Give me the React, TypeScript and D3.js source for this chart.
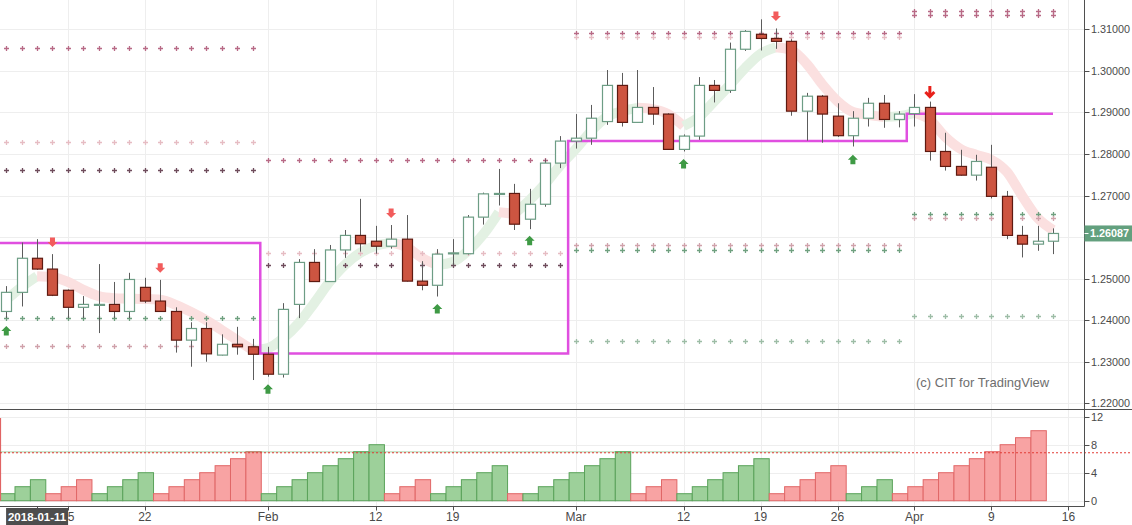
import React, { useEffect, useRef } from 'react';
import * as d3 from 'd3';

// daily candles, 2018-01-09 .. 2018-04-13
const opens = [
  1.2421, 1.2467, 1.2549, 1.2523, 1.2472, 1.2431, 1.2438, 1.2438, 1.2421, 1.2479,
  1.2446, 1.2421, 1.2352, 1.2380, 1.2316, 1.2342, 1.2336, 1.2318, 1.2270, 1.2438,
  1.2539, 1.2493, 1.2569, 1.2604, 1.2590, 1.2578, 1.2595, 1.2494, 1.2484, 1.2562,
  1.2560, 1.2648, 1.2703, 1.2705, 1.2643, 1.2679, 1.2778, 1.2831, 1.2838, 1.2878,
  1.2965, 1.2876, 1.2912, 1.2896, 1.2811, 1.2843, 1.2965, 1.2953, 1.3052, 1.3088,
  1.3078, 1.3071, 1.2903, 1.2939, 1.2891, 1.2844, 1.2886, 1.2922, 1.2883, 1.2897,
  1.2912, 1.2806, 1.2770, 1.2749, 1.2768, 1.2698, 1.2604, 1.2583, 1.2590,
];
const highs = [
  1.2482, 1.2587, 1.2595, 1.2559, 1.2474, 1.2458, 1.2535, 1.2492, 1.2514, 1.2502,
  1.2497, 1.2431, 1.2395, 1.2395, 1.2366, 1.2384, 1.2355, 1.2336, 1.2441, 1.2547,
  1.2571, 1.2581, 1.2617, 1.2692, 1.2627, 1.2629, 1.2653, 1.2542, 1.2571, 1.2595,
  1.2653, 1.2707, 1.2764, 1.2728, 1.2716, 1.2787, 1.2843, 1.2896, 1.2918, 1.3002,
  1.2995, 1.3002, 1.2961, 1.2898, 1.2847, 1.2985, 1.2978, 1.3068, 1.3098, 1.3124,
  1.3102, 1.3076, 1.2947, 1.2942, 1.2922, 1.2903, 1.2935, 1.2942, 1.2903, 1.2944,
  1.2926, 1.2851, 1.2810, 1.2798, 1.2822, 1.2711, 1.2627, 1.2627, 1.2621,
];
const lows = [
  1.2405, 1.2433, 1.2521, 1.2458, 1.2405, 1.2405, 1.2369, 1.2405, 1.2405, 1.2441,
  1.2420, 1.2322, 1.2288, 1.2300, 1.2315, 1.2317, 1.2256, 1.2264, 1.2262, 1.2405,
  1.2492, 1.2492, 1.2550, 1.2565, 1.2560, 1.2572, 1.2493, 1.2472, 1.2457, 1.2531,
  1.2558, 1.2630, 1.2676, 1.2617, 1.2619, 1.2673, 1.2766, 1.2813, 1.2822, 1.2870,
  1.2866, 1.2875, 1.2870, 1.2810, 1.2806, 1.2834, 1.2924, 1.2947, 1.3048, 1.3049,
  1.3053, 1.2892, 1.2832, 1.2827, 1.2841, 1.2818, 1.2866, 1.2863, 1.2864, 1.2866,
  1.2784, 1.2760, 1.2748, 1.2736, 1.2693, 1.2595, 1.2551, 1.2567, 1.2559,
];
const closes = [
  1.2467, 1.2549, 1.2523, 1.2460, 1.2431, 1.2438, 1.2438, 1.2421, 1.2498, 1.2446,
  1.2421, 1.2352, 1.2380, 1.2319, 1.2342, 1.2336, 1.2318, 1.2270, 1.2426, 1.2539,
  1.2493, 1.2569, 1.2604, 1.2584, 1.2578, 1.2595, 1.2494, 1.2484, 1.2559, 1.2562,
  1.2648, 1.2704, 1.2705, 1.2631, 1.2679, 1.2778, 1.2831, 1.2838, 1.2886, 1.2965,
  1.2876, 1.2912, 1.2896, 1.2811, 1.2843, 1.2965, 1.2953, 1.3052, 1.3095, 1.3078,
  1.3071, 1.2903, 1.2939, 1.2896, 1.2844, 1.2886, 1.2922, 1.2883, 1.2896, 1.2912,
  1.2806, 1.2770, 1.2749, 1.2782, 1.2698, 1.2604, 1.2583, 1.2590, 1.26087,
];

// smoothed average ribbon
const ribbon = [
  1.2449, 1.2480, 1.2506, 1.2504, 1.2492, 1.2473, 1.2458, 1.2453, 1.2452, 1.2451,
  1.2449, 1.2437, 1.2420, 1.2400, 1.2376, 1.2352, 1.2328, 1.2333, 1.2357, 1.2393,
  1.2441, 1.2492, 1.2533, 1.2562, 1.2579, 1.2586, 1.2576, 1.2550, 1.2533, 1.2540,
  1.2567, 1.2607, 1.2660, 1.2656, 1.2689, 1.2728, 1.2773, 1.2812, 1.2855, 1.2889,
  1.2903, 1.2911, 1.2908, 1.2896, 1.2867, 1.2889, 1.2927, 1.2966, 1.3007, 1.3041,
  1.3057, 1.3050, 1.3017, 1.2968, 1.2927, 1.2901, 1.2894, 1.2889, 1.2891, 1.2899,
  1.2882, 1.2841, 1.2812, 1.2798, 1.2786, 1.2757, 1.2699, 1.2646, 1.2617,
];

// monthly open line
const monthStart = [0, 17, 37, 59];
const monthEnd = [16, 36, 58, 68];
const monthLevel = [1.2586, 1.2320, 1.2831, 1.2897];

// pivot rows: month index, price, colour kind
const pivotMonth = [0, 0, 0, 0, 0, 1, 1, 1, 2, 2, 2, 2, 2, 3, 3, 3, 3, 3];
const pivotPrice = [
  1.3055, 1.2829, 1.2761, 1.2405, 1.2338,
  1.2786, 1.2562, 1.2533,
  1.3091, 1.3082, 1.2581, 1.2569, 1.2350,
  1.3144, 1.3134, 1.2656, 1.2646, 1.2410,
];
const pivotKind = ['r', 'p', 'd', 'g', 'q', 'r', 'p', 'd', 'r', 'p', 'q', 'g', 'l', 'r', 'r', 'g', 'q', 'l'];
const pivotColor: Record<string, string> = {
  r: '#b86a86', p: '#e6bcc3', d: '#6f4c5c', g: '#6fa07f', q: '#d0a2ab', l: '#9dbda6',
};

// signal arrows
const upArrowIdx = [0, 17, 28, 34, 44, 55];
const upArrowPrice = [1.2374, 1.2234, 1.2427, 1.2591, 1.2776, 1.2786];
const downArrowIdx = [3, 10, 25, 50];
const downArrowPrice = [1.2588, 1.2526, 1.2658, 1.3132];
const bigArrowIdx = 60;
const bigArrowPrice = 1.2949;

// lower panel counter
const countValues = [
  1, 2, 3, 1, 2, 3, 1, 2, 3, 4, 1, 2, 3, 4, 5, 6, 7, 1, 2, 3,
  4, 5, 6, 7, 8, 1, 2, 3, 1, 2, 3, 4, 5, 1, 1, 2, 3, 4, 5, 6,
  7, 1, 2, 3, 1, 2, 3, 4, 5, 6, 1, 2, 3, 4, 5, 1, 2, 3, 1, 2,
  3, 4, 5, 6, 7, 8, 9, 10,
];
const countSide = 'GGGRRRGGGGRRRRRRRGGGGGGGGRRRGGGGGRGGGGGGGRRRGGGGGGRRRRRGGGRRRRRRRRRR'.split('');
const countLevel = 6.85;

const tickIdx = [4, 9, 17, 24, 29, 37, 44, 49, 54, 59, 64, 69];
const tickLabels = ['15', '22', 'Feb', '12', '19', 'Mar', '12', '19', '26', 'Apr', '9', '16'];
const priceTicks = d3.range(10).map((i) => 1.22 + i * 0.01);
const countTicks = [0, 4, 8, 12];

const App: React.FC = () => {
  const svgRef = useRef<SVGSVGElement | null>(null);

  useEffect(() => {
    const svg = d3.select(svgRef.current);
    svg.selectAll('*').remove();
    const width = 1132;
    const height = 525;
    const plotRight = 1084.5;
    const mainBottom = 409.5;
    const axisBottom = 506.5;
    const font = '"Liberation Sans", Arial, sans-serif';

    const x = d3.scaleLinear().domain([0, 68]).range([6.3, 1053]);
    const y = d3.scaleLinear().domain([1.22, 1.31]).range([403.3, 29.3]);
    const yc = d3.scaleLinear().domain([0, 12]).range([500.7, 416.7]);
    const step = x(1) - x(0);
    const px = (v: number) => Math.round(v) + 0.5;
    const last = closes[closes.length - 1];

    const defs = svg.append('defs');
    defs.append('clipPath').attr('id', 'clipMain')
      .append('rect').attr('x', 0).attr('y', 0).attr('width', plotRight).attr('height', mainBottom);
    defs.append('clipPath').attr('id', 'clipLow')
      .append('rect').attr('x', 0).attr('y', mainBottom).attr('width', plotRight).attr('height', axisBottom - mainBottom);

    svg.append('rect').attr('width', width).attr('height', height).attr('fill', '#ffffff');

    // grid
    const grid = svg.append('g').attr('stroke', '#eeeeee').attr('stroke-width', 1);
    grid.selectAll('line.v').data(tickIdx).join('line').attr('class', 'v')
      .attr('x1', (d) => px(x(d))).attr('x2', (d) => px(x(d)))
      .attr('y1', 0).attr('y2', axisBottom);
    grid.selectAll('line.h').data(priceTicks).join('line').attr('class', 'h')
      .attr('x1', 0).attr('x2', plotRight)
      .attr('y1', (d) => px(y(d))).attr('y2', (d) => px(y(d)));
    grid.selectAll('line.c').data(countTicks).join('line').attr('class', 'c')
      .attr('x1', 0).attr('x2', plotRight)
      .attr('y1', (d) => px(yc(d))).attr('y2', (d) => px(yc(d)));

    const main = svg.append('g').attr('clip-path', 'url(#clipMain)');

    // ribbon, coloured by slope
    const pts = ribbon.map((v, i) => [x(i), y(v)] as [number, number]);
    const runs: { up: boolean; from: number; to: number }[] = [];
    for (let i = 1; i < ribbon.length; i++) {
      const up = ribbon[i] >= ribbon[i - 1];
      const prev = runs[runs.length - 1];
      if (prev && prev.up === up) prev.to = i;
      else runs.push({ up, from: i - 1, to: i });
    }
    const line = d3.line().curve(d3.curveMonotoneX);
    main.selectAll('path.ribbon').data(runs).join('path').attr('class', 'ribbon')
      .attr('d', (r) => line(pts.slice(r.from, r.to + 1)))
      .attr('fill', 'none')
      .attr('stroke', (r) => (r.up ? '#e3f1e3' : '#fbe0e0'))
      .attr('stroke-width', 10)
      .attr('stroke-linejoin', 'round');

    // pivot crosses
    pivotPrice.forEach((p, k) => {
      const m = pivotMonth[k];
      const idx = d3.range(monthStart[m], monthEnd[m] + 1);
      main.append('g').selectAll('path').data(idx).join('path')
        .attr('d', (i) => {
          const cx = Math.round(x(i)) + 0.5;
          const cy = Math.round(y(p)) + 0.5;
          return `M${cx - 2.5},${cy}h5M${cx},${cy - 2.5}v5`;
        })
        .attr('stroke', pivotColor[pivotKind[k]])
        .attr('stroke-width', 1.3);
    });

    // monthly open step line
    const stepPts: [number, number][] = [];
    monthLevel.forEach((lv, m) => {
      const x0 = m === 0 ? 0 : (x(monthStart[m]) + x(monthStart[m] - 1)) / 2;
      const x1 = m === monthLevel.length - 1 ? x(monthEnd[m]) : (x(monthEnd[m]) + x(monthEnd[m] + 1)) / 2;
      stepPts.push([x0, y(lv)], [x1, y(lv)]);
    });
    main.append('path')
      .attr('d', d3.line()(stepPts))
      .attr('fill', 'none')
      .attr('stroke', '#e04fe0')
      .attr('stroke-width', 2.5);

    // candles
    const idx = d3.range(opens.length);
    const candles = main.append('g');
    candles.selectAll('line.wick').data(idx).join('line').attr('class', 'wick')
      .attr('x1', (i) => px(x(i))).attr('x2', (i) => px(x(i)))
      .attr('y1', (i) => y(highs[i])).attr('y2', (i) => y(lows[i]))
      .attr('stroke', '#5c5c5c').attr('stroke-width', 1);
    candles.selectAll('rect.body').data(idx).join('rect').attr('class', 'body')
      .attr('x', (i) => Math.round(x(i)) - 4.5)
      .attr('width', 10)
      .attr('y', (i) => y(Math.max(opens[i], closes[i])))
      .attr('height', (i) => Math.max(1, Math.abs(y(opens[i]) - y(closes[i]))))
      .attr('fill', (i) => (closes[i] >= opens[i] ? '#ffffff' : '#cd5541'))
      .attr('stroke', (i) => (closes[i] >= opens[i] ? '#6d9d85' : '#5e1a11'))
      .attr('stroke-width', 1.2);

    // arrows
    main.selectAll('path.up').data(upArrowIdx).join('path').attr('class', 'up')
      .attr('d', (i, k) => {
        const cx = x(i);
        const cy = y(upArrowPrice[k]);
        return `M${cx},${cy - 5}L${cx + 5},${cy}L${cx + 2.5},${cy}L${cx + 2.5},${cy + 4.5}L${cx - 2.5},${cy + 4.5}L${cx - 2.5},${cy}L${cx - 5},${cy}Z`;
      })
      .attr('fill', '#3f9a45');
    main.selectAll('path.down').data(downArrowIdx).join('path').attr('class', 'down')
      .attr('d', (i, k) => {
        const cx = x(i);
        const cy = y(downArrowPrice[k]);
        return `M${cx},${cy + 5}L${cx + 5},${cy}L${cx + 2.5},${cy}L${cx + 2.5},${cy - 4.5}L${cx - 2.5},${cy - 4.5}L${cx - 2.5},${cy}L${cx - 5},${cy}Z`;
      })
      .attr('fill', '#f25c5c');
    {
      const cx = x(bigArrowIdx);
      const cy = y(bigArrowPrice);
      main.append('path')
        .attr('d', `M${cx},${cy - 6}V${cy + 4}M${cx - 4.5},${cy}L${cx},${cy + 4.5}L${cx + 4.5},${cy}`)
        .attr('fill', 'none')
        .attr('stroke', '#e8201a')
        .attr('stroke-width', 3);
    }

    // watermark
    svg.append('text').attr('x', 916).attr('y', 387)
      .attr('font-family', font).attr('font-size', 13).attr('fill', '#6e6e6e')
      .text('(c) CIT for TradingView');

    // lower panel
    const low = svg.append('g').attr('clip-path', 'url(#clipLow)');
    const cIdx = d3.range(countValues.length);
    low.selectAll('rect').data(cIdx).join('rect')
      .attr('x', (i) => x(i) - step / 2 + 1)
      .attr('width', step)
      .attr('y', (i) => yc(countValues[i]))
      .attr('height', (i) => yc(0) - yc(countValues[i]))
      .attr('fill', (i) => (countSide[i] === 'G' ? '#9dd09a' : '#f8a3a3'))
      .attr('stroke', (i) => (countSide[i] === 'G' ? '#5aa25a' : '#e06767'))
      .attr('stroke-width', 1);
    low.append('line')
      .attr('x1', 0.5).attr('x2', 0.5).attr('y1', yc(0)).attr('y2', yc(11.8))
      .attr('stroke', '#e06464').attr('stroke-width', 1.2);
    low.append('line')
      .attr('x1', 0).attr('x2', 900).attr('y1', yc(countLevel + 0.12)).attr('y2', yc(countLevel + 0.12))
      .attr('stroke', '#6fb36f').attr('stroke-width', 1).attr('opacity', 0.6);
    svg.append('line')
      .attr('x1', 0).attr('x2', width).attr('y1', yc(countLevel)).attr('y2', yc(countLevel))
      .attr('stroke', '#e23b35').attr('stroke-width', 1).attr('stroke-dasharray', '2,2');

    // axes frame
    const axisColor = '#4f4f4f';
    svg.append('line').attr('x1', plotRight).attr('x2', plotRight).attr('y1', 0).attr('y2', axisBottom)
      .attr('stroke', axisColor);
    svg.append('line').attr('x1', 0).attr('x2', width).attr('y1', mainBottom).attr('y2', mainBottom)
      .attr('stroke', axisColor);
    svg.append('line').attr('x1', 0).attr('x2', plotRight).attr('y1', axisBottom).attr('y2', axisBottom)
      .attr('stroke', axisColor);

    // price axis (label under the last-price tag is hidden, as in the platform)
    const fmt = d3.format('.5f');
    const shownTicks = priceTicks.filter((d) => Math.abs(y(d) - y(last)) > 12);
    const pAxis = svg.append('g');
    pAxis.selectAll('line').data(priceTicks).join('line')
      .attr('x1', plotRight).attr('x2', plotRight + 5)
      .attr('y1', (d) => px(y(d))).attr('y2', (d) => px(y(d)))
      .attr('stroke', axisColor);
    pAxis.selectAll('text').data(shownTicks).join('text')
      .attr('x', 1091).attr('y', (d) => y(d) + 4)
      .attr('font-family', font).attr('font-size', 10.8).attr('fill', '#4a4a4a')
      .text((d) => fmt(d));

    const cAxis = svg.append('g');
    cAxis.selectAll('line').data(countTicks).join('line')
      .attr('x1', plotRight).attr('x2', plotRight + 5)
      .attr('y1', (d) => px(yc(d))).attr('y2', (d) => px(yc(d)))
      .attr('stroke', axisColor);
    cAxis.selectAll('text').data(countTicks).join('text')
      .attr('x', 1091).attr('y', (d) => yc(d) + 4)
      .attr('font-family', font).attr('font-size', 11).attr('fill', '#4a4a4a')
      .text((d) => String(d));

    // last price tag
    svg.append('rect').attr('x', plotRight).attr('y', y(last) - 8).attr('width', width - plotRight).attr('height', 16)
      .attr('fill', '#63a07e');
    svg.append('line').attr('x1', plotRight).attr('x2', plotRight + 4).attr('y1', px(y(last))).attr('y2', px(y(last)))
      .attr('stroke', '#ffffff');
    svg.append('text').attr('x', 1090).attr('y', y(last) + 4)
      .attr('font-family', font).attr('font-size', 10.8).attr('font-weight', 'bold').attr('fill', '#ffffff')
      .text(fmt(last));

    // time axis
    const tAxis = svg.append('g');
    tAxis.selectAll('line').data(tickIdx).join('line')
      .attr('x1', (d) => px(x(d))).attr('x2', (d) => px(x(d)))
      .attr('y1', axisBottom).attr('y2', axisBottom + 4)
      .attr('stroke', axisColor);
    tAxis.selectAll('text').data(tickIdx).join('text')
      .attr('x', (d) => x(d)).attr('y', 521)
      .attr('text-anchor', 'middle')
      .attr('font-family', font).attr('font-size', 12).attr('fill', '#4a4a4a')
      .text((d, k) => tickLabels[k]);

    // cursor date tag
    const tagIdx = 2;
    svg.append('line').attr('x1', px(x(tagIdx))).attr('x2', px(x(tagIdx))).attr('y1', axisBottom).attr('y2', axisBottom + 4)
      .attr('stroke', axisColor);
    svg.append('rect').attr('x', x(tagIdx) - 31).attr('y', 508).attr('width', 62).attr('height', 17)
      .attr('fill', '#4d4d4d');
    svg.append('text').attr('x', x(tagIdx)).attr('y', 521)
      .attr('text-anchor', 'middle')
      .attr('font-family', font).attr('font-size', 11.5).attr('font-weight', 'bold').attr('fill', '#ffffff')
      .text('2018-01-11');
  }, []);

  return (
    <svg
      ref={svgRef}
      width="1132"
      height="525"
      style={{ position: 'absolute', left: 0, top: 0 }}
    />
  );
};

export default App;
